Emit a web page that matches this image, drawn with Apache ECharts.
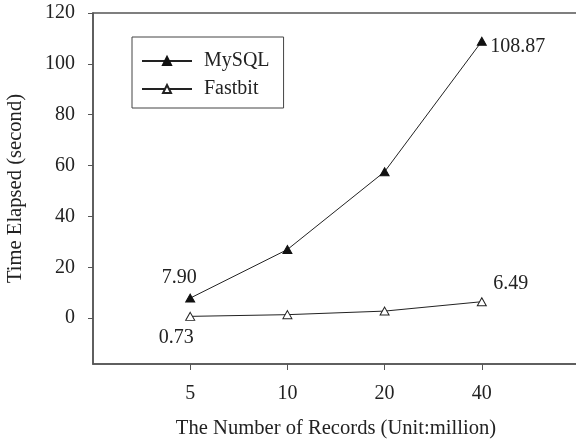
<!DOCTYPE html>
<html>
<head>
<meta charset="utf-8">
<script src="https://cdn.jsdelivr.net/npm/echarts@6/dist/echarts.min.js"></script>
<style>html,body{margin:0;padding:0;background:#fff}#c{width:576px;height:443px}</style>
</head>
<body>
<div id="c"></div>
<script>
// Data
var categories = ['', '5', '10', '20', '40', ''];
var mysqlValues = [7.90, 27.0, 57.6, 108.87];
var fastbitValues = [0.73, 1.4, 2.8, 6.49];
var yTicks = [0, 20, 40, 60, 80, 100, 120];
var seriesNames = ['MySQL', 'Fastbit'];

var FONT = 'Liberation Serif';
var TXT = '#222';

function buildData(values, labels) {
  var out = [null];
  values.forEach(function (v, i) {
    var item = { value: v };
    if (labels[i]) {
      item.label = {
        show: true,
        position: 'inside',
        offset: labels[i],
        color: TXT,
        fontFamily: FONT,
        fontSize: 20,
        formatter: function (p) { return Number(p.value).toFixed(2); }
      };
    }
    out.push(item);
  });
  out.push(null);
  return out;
}

var chart = echarts.init(document.getElementById('c'), null, { renderer: 'canvas' });
chart.setOption({
  animation: false,
  backgroundColor: '#fff',
  textStyle: { fontFamily: FONT, color: TXT },
  grid: {
    left: 93, top: 13, right: -3, bottom: 79,
    outerBoundsMode: 'none', containLabel: false,
    show: true, borderColor: '#555', borderWidth: 1.5, backgroundColor: 'transparent'
  },
  legend: {
    orient: 'vertical',
    left: 132, top: 37,
    padding: [14, 14, 9, 9],
    borderColor: '#444', borderWidth: 1,
    itemWidth: 50, itemHeight: 10, itemGap: 8,
    textStyle: { fontFamily: FONT, fontSize: 20, color: TXT, padding: [0, 0, 0, 7] },
    data: seriesNames
  },
  xAxis: {
    type: 'category',
    data: categories,
    boundaryGap: false,
    name: 'The Number of Records (Unit:million)',
    nameLocation: 'middle',
    nameGap: 54,
    nameTextStyle: { fontFamily: FONT, fontSize: 20.6, color: TXT },
    axisLine: { onZero: false, lineStyle: { color: '#555', width: 1.5 } },
    axisTick: { length: 6, lineStyle: { color: '#555' }, interval: function (i, v) { return v !== ''; } },
    axisLabel: { margin: 20, fontFamily: FONT, fontSize: 20, color: TXT, interval: 0 },
    splitLine: { show: false }
  },
  yAxis: {
    type: 'value',
    min: -18, max: 120,
    name: 'Time Elapsed (second)',
    nameLocation: 'middle',
    nameGap: 67,
    nameTextStyle: { fontFamily: FONT, fontSize: 20.6, color: TXT },
    axisLine: { show: true, onZero: false, lineStyle: { color: '#555', width: 1.5 } },
    axisTick: { show: true, length: 5, lineStyle: { color: '#555' }, customValues: yTicks },
    axisLabel: { margin: 18, fontFamily: FONT, fontSize: 20, color: TXT, customValues: yTicks },
    splitLine: { show: false }
  },
  series: [
    {
      name: seriesNames[0], type: 'line',
      data: buildData(mysqlValues, [[-11, -20], null, null, [36, 5]]),
      symbol: 'triangle', symbolSize: [9, 8], showAllSymbol: true,
      lineStyle: { color: '#222', width: 1 },
      itemStyle: { color: '#111', borderColor: '#111', borderWidth: 1 }
    },
    {
      name: seriesNames[1], type: 'line',
      data: buildData(fastbitValues, [[-14, 21], null, null, [29, -18]]),
      symbol: 'triangle', symbolSize: [9, 8], showAllSymbol: true,
      lineStyle: { color: '#222', width: 1 },
      itemStyle: { color: '#fff', borderColor: '#222', borderWidth: 1 }
    }
  ]
});
</script>
</body>
</html>
